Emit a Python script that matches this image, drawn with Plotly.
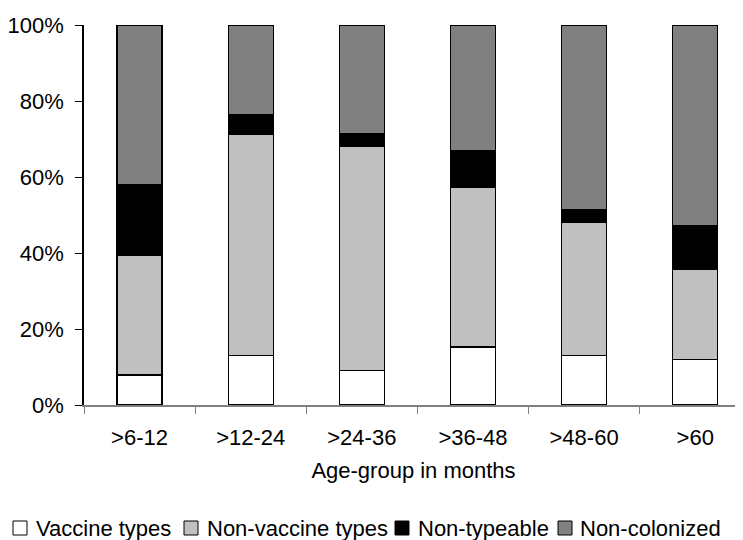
import plotly.graph_objects as go

categories = [">6-12", ">12-24", ">24-36", ">36-48", ">48-60", ">60"]
vaccine_types = [7.9, 13.1, 9.0, 15.3, 13.1, 12.0]
non_vaccine_types = [31.5, 58.1, 59.1, 42.1, 34.9, 23.7]
non_typeable = [18.6, 5.1, 3.3, 9.6, 3.3, 11.4]
non_colonized = [42.0, 23.7, 28.6, 33.0, 48.7, 52.9]
y_ticks = [0, 20, 40, 60, 80, 100]
y_tick_labels = ["0%", "20%", "40%", "60%", "80%", "100%"]

series_names = ["Vaccine types", "Non-vaccine types", "Non-typeable", "Non-colonized"]
series_values = [vaccine_types, non_vaccine_types, non_typeable, non_colonized]
series_colors = ["#FFFFFF", "#C0C0C0", "#000000", "#808080"]

FONT = "Liberation Sans, Arial, sans-serif"
# the page has an 8px body margin, so the figure is offset by 8px
OFF = 8
W, H = 743 - OFF, 540 - OFF
ML, MR, MT = 84 - OFF, 0, 25 - OFF
PH = 380
MB = H - MT - PH
PW = W - ML - MR

fig = go.Figure()
for name, vals, color in zip(series_names, series_values, series_colors):
    fig.add_trace(go.Bar(
        x=categories, y=vals, name=name, showlegend=False,
        marker=dict(color=color, line=dict(color="#000000", width=1.3)),
    ))

# manual legend (square swatch + text), positions in page pixels
def px_x(px):
    return (px - OFF - ML) / PW

def px_y(py):
    return (H - MB - (py - OFF)) / PH

legend_icon_x = [13, 184, 395, 558]
legend_text_x = [34, 205, 416, 578]
icon_size = 14
legend_cy = 528
for name, color, ix, tx in zip(series_names, series_colors, legend_icon_x, legend_text_x):
    fig.add_shape(
        type="rect", xref="paper", yref="paper",
        x0=px_x(ix), x1=px_x(ix + icon_size),
        y0=px_y(legend_cy + icon_size / 2), y1=px_y(legend_cy - icon_size / 2),
        fillcolor=color, line=dict(color="#000000", width=1),
    )
    fig.add_annotation(
        text=name, xref="paper", yref="paper",
        x=px_x(tx), y=px_y(legend_cy), xanchor="left", yanchor="middle",
        showarrow=False, font=dict(size=22, family=FONT, color="#000000"),
    )

fig.update_layout(
    width=W, height=H,
    barmode="stack", bargap=0.595,
    plot_bgcolor="white", paper_bgcolor="white",
    margin=dict(l=ML, r=MR, t=MT, b=MB),
    font=dict(family=FONT, size=22, color="#000000"),
    showlegend=False,
    xaxis=dict(
        range=[-0.5, 5.43], showline=True, linecolor="#808080", linewidth=1.5,
        ticks="outside", tickson="boundaries", ticklen=7, tickcolor="#808080",
        ticklabelstandoff=12, automargin=False,
        title=dict(text="Age-group in months", font=dict(size=22), standoff=13),
        showgrid=False, zeroline=False,
    ),
    yaxis=dict(
        range=[0, 100], showline=True, linecolor="#000000", linewidth=1.5,
        ticks="outside", ticklen=7, tickcolor="#000000",
        tickvals=y_ticks, ticktext=y_tick_labels,
        ticklabelstandoff=7, automargin=False,
        showgrid=False, zeroline=False,
    ),
)

fig.write_html("out.html")
